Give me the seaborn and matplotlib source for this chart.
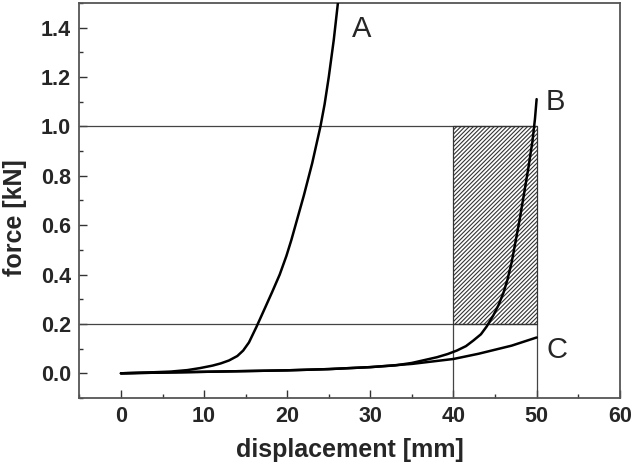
import matplotlib
matplotlib.use("Agg")
from matplotlib import pyplot as plt
from matplotlib.ticker import MultipleLocator, FormatStrFormatter
import numpy as np
import pandas as pd
import seaborn as sns

# curve A
a_x = [0, 3, 6, 8, 9.5, 11, 12, 13, 14, 14.7, 15.4, 16.3, 17.2, 18.2, 19.1, 19.9,
       20.5, 21.0, 22.0, 23.0, 24.0, 24.5, 25.0, 25.6, 26.1]
a_y = [0, 0.003, 0.007, 0.013, 0.021, 0.031, 0.04, 0.052, 0.07, 0.092, 0.125, 0.188,
       0.255, 0.33, 0.40, 0.475, 0.54, 0.60, 0.72, 0.85, 1.0, 1.09, 1.2, 1.35, 1.5]

# curve B
b_x = [0, 10, 20, 25, 30, 33, 35, 38, 39.3, 40.4, 41.5, 42.4, 43.3, 44.0, 44.8, 45.4,
       46.0, 46.5, 47.0, 47.5, 48.0, 48.5, 49.0, 49.5, 49.8, 50.0]
b_y = [0, 0.006, 0.012, 0.017, 0.025, 0.032, 0.042, 0.065, 0.078, 0.092, 0.11, 0.133,
       0.158, 0.19, 0.235, 0.275, 0.325, 0.38, 0.45, 0.54, 0.63, 0.73, 0.83, 0.94, 1.03, 1.11]

# curve C
c_x = [0, 10, 20, 25, 30, 35, 40, 43, 47, 50]
c_y = [0, 0.006, 0.012, 0.017, 0.025, 0.038, 0.058, 0.079, 0.112, 0.145]

# hatched working window and guide lines
window_x = [40, 50]
window_y = [0.2, 1.0]
guide_levels = [0.2, 1.0]
guide_positions = [40, 50]

labels = ["A", "B", "C"]
label_x = [29.0, 52.3, 52.5]
label_y = [1.395, 1.10, 0.096]

sns.set_style("white")
plt.rcParams["font.family"] = ["Liberation Sans", "DejaVu Sans"]
plt.rcParams["hatch.linewidth"] = 0.8

fig = plt.figure(figsize=(6.35, 4.71), dpi=100)
ax = fig.add_axes([0.125, 0.155, 0.851, 0.839])

# guide lines
ax.hlines(guide_levels, -5, window_x[1], color="#444444", lw=0.9, zorder=1)
ax.vlines(guide_positions, -0.1, window_y[0], color="#444444", lw=0.9, zorder=1)
ax.fill_between(window_x, window_y[0], window_y[1], facecolor="none",
                edgecolor="#333333", hatch="////////", lw=0.9, zorder=1)

for xs, ys in [(a_x, a_y), (b_x, b_y), (c_x, c_y)]:
    sns.lineplot(x=xs, y=ys, color="black", lw=1.8, estimator=None, sort=False, ax=ax, zorder=3)

for t, x, y in zip(labels, label_x, label_y):
    ax.text(x, y, t, fontsize=21, ha="center", va="center")

ax.set_xlim(-5, 60)
ax.set_ylim(-0.1, 1.5)
ax.set_xticks(np.arange(0, 61, 10))
ax.set_yticks(np.arange(0, 1.41, 0.2))
ax.xaxis.set_minor_locator(MultipleLocator(5))
ax.yaxis.set_minor_locator(MultipleLocator(0.1))
ax.yaxis.set_major_formatter(FormatStrFormatter("%.1f"))
ax.tick_params(which="both", direction="in", left=True, bottom=True, top=False, right=False,
               color="#333333", width=1)
ax.tick_params(which="major", length=6, labelsize=15.5, pad=6)
ax.tick_params(which="minor", length=3)
for lab in ax.get_xticklabels() + ax.get_yticklabels():
    lab.set_fontweight("bold")

for s in ax.spines.values():
    s.set_color("#555555")
    s.set_linewidth(1.3)
    s.set_visible(True)

ax.set_xlabel("displacement [mm]", fontsize=18, fontweight="bold", labelpad=8)
ax.set_ylabel("force [kN]", fontsize=18, fontweight="bold")
ax.yaxis.set_label_coords(-0.097, 0.456)

fig.savefig("out.png", dpi=100)
